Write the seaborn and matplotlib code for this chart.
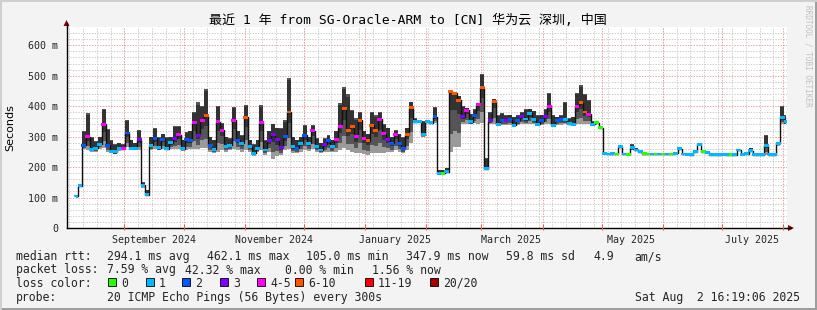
import numpy as np
import pandas as pd
import matplotlib
matplotlib.use("Agg")
import matplotlib.pyplot as plt
import matplotlib.transforms as mtransforms
from matplotlib.patches import Rectangle, Polygon
from matplotlib.lines import Line2D
import seaborn as sns

# ---------------- data ----------------
start_date = "2024-08-07 12:00"
step = "2D"

median_ms = [
    105, 139, 272, 300, 258, 262, 275, 340, 272, 252,
    250, 262, 260, 312, 262, 262, 290, 140, 110, 272,
    294, 264, 291, 261, 280, 294, 307, 261, 291, 286,
    345, 305, 354, 368, 272, 258, 349, 321, 269, 272,
    354, 288, 278, 364, 267, 245, 261, 345, 256, 288,
    307, 290, 265, 299, 381, 267, 262, 278, 305, 278,
    319, 267, 256, 275, 288, 267, 291, 334, 392, 321,
    334, 299, 354, 294, 286, 337, 321, 357, 310, 292,
    278, 307, 278, 261, 307, 395, 349, 351, 307, 349,
    345, 365, 180, 180, 185, 447, 442, 420, 365, 387,
    349, 370, 405, 461, 195, 352, 416, 340, 354, 354,
    356, 338, 354, 365, 358, 376, 356, 340, 352, 365,
    400, 338, 354, 356, 356, 343, 340, 400, 411, 381,
    374, 341, 345, 330, 245, 243, 244, 243, 267, 243,
    242, 263, 256, 250, 244, 243, 243, 243, 243, 243,
    243, 243, 245, 261, 243, 242, 240, 250, 275, 250,
    248, 240, 240, 240, 242, 240, 240, 240, 256, 242,
    244, 254, 240, 240, 240, 272, 240, 240, 278, 363,
    349,
]

smoke_hi_ms = [
    110, 145, 320, 378, 300, 285, 300, 392, 325, 290,
    275, 280, 275, 356, 290, 280, 321, 150, 125, 300,
    327, 300, 310, 300, 300, 334, 334, 290, 315, 320,
    381, 414, 400, 458, 300, 290, 400, 345, 300, 295,
    398, 320, 305, 403, 290, 275, 290, 403, 290, 320,
    343, 330, 330, 354, 494, 300, 290, 300, 338, 300,
    338, 295, 280, 295, 305, 290, 320, 411, 463, 440,
    387, 360, 380, 320, 310, 381, 370, 381, 340, 330,
    300, 321, 310, 300, 330, 414, 360, 356, 350, 353,
    350, 398, 190, 190, 198, 450, 447, 435, 400, 395,
    375, 390, 412, 507, 230, 380, 425, 370, 376, 370,
    372, 365, 370, 380, 390, 392, 385, 370, 372, 390,
    444, 370, 365, 370, 414, 360, 365, 444, 469, 440,
    420, 350, 348, 335, 248, 246, 247, 246, 272, 246,
    245, 275, 262, 253, 247, 246, 246, 246, 246, 246,
    246, 246, 248, 267, 246, 245, 243, 253, 278, 253,
    251, 243, 243, 243, 245, 243, 243, 243, 260, 245,
    247, 262, 243, 243, 243, 305, 243, 243, 281, 400,
    370,
]

smoke_lo_ms = [
    100, 134, 258, 255, 250, 250, 260, 262, 250, 245,
    242, 252, 255, 265, 255, 255, 255, 130, 104, 255,
    258, 255, 258, 255, 258, 260, 258, 252, 255, 258,
    260, 258, 262, 262, 250, 245, 250, 255, 250, 255,
    258, 255, 250, 255, 250, 238, 250, 255, 240, 250,
    225, 235, 240, 255, 260, 245, 245, 250, 255, 252,
    258, 250, 245, 250, 250, 248, 250, 255, 262, 255,
    250, 245, 245, 242, 240, 245, 245, 245, 245, 250,
    248, 255, 250, 245, 255, 280, 345, 346, 300, 346,
    342, 345, 178, 178, 182, 250, 265, 265, 340, 340,
    340, 345, 340, 345, 190, 340, 340, 335, 338, 338,
    338, 335, 338, 340, 340, 342, 340, 335, 338, 340,
    340, 335, 338, 338, 340, 338, 336, 340, 340, 340,
    340, 338, 343, 327, 242, 240, 241, 240, 262, 240,
    239, 255, 252, 247, 241, 240, 240, 240, 240, 240,
    240, 240, 242, 255, 240, 239, 237, 247, 270, 247,
    245, 237, 237, 237, 239, 237, 237, 237, 252, 239,
    241, 250, 237, 237, 237, 240, 237, 237, 270, 340,
    340,
]

# loss level index into loss_labels
loss_level = [
    1, 1, 2, 4, 1, 1, 1, 4, 2, 1,
    1, 1, 4, 2, 1, 1, 3, 1, 1, 1,
    2, 1, 2, 1, 1, 3, 4, 1, 2, 2,
    4, 3, 4, 5, 2, 1, 4, 4, 1, 1,
    4, 2, 1, 5, 1, 1, 1, 4, 1, 3,
    3, 3, 3, 2, 5, 1, 2, 1, 2, 1,
    4, 1, 1, 3, 2, 1, 4, 4, 5, 5,
    5, 4, 5, 4, 5, 5, 5, 4, 4, 3,
    2, 4, 2, 2, 5, 5, 1, 1, 1, 1,
    1, 2, 1, 0, 1, 5, 5, 5, 3, 4,
    1, 2, 4, 5, 1, 3, 5, 1, 2, 3,
    2, 1, 2, 3, 1, 1, 1, 1, 2, 3,
    4, 1, 2, 2, 1, 1, 1, 4, 5, 5,
    4, 1, 0, 0, 1, 1, 1, 0, 1, 1,
    0, 1, 1, 1, 0, 0, 1, 0, 1, 0,
    1, 0, 1, 1, 1, 1, 1, 1, 1, 0,
    1, 1, 1, 1, 1, 1, 0, 1, 1, 1,
    1, 1, 1, 1, 1, 1, 1, 1, 1, 1,
    1,
]

loss_labels = ["0", "1", "2", "3", "4-5", "6-10", "11-19", "20/20"]
loss_colors = ["#26ff00", "#00b8ff", "#0059ff", "#7e00ff",
               "#ff00ff", "#ff5500", "#ff0000", "#a80000"]

y_ticks = [0, 100, 200, 300, 400, 500, 600]
y_tick_labels = ["0", "100 m", "200 m", "300 m", "400 m", "500 m", "600 m"]

month_labels = ["September 2024", "November 2024", "January 2025",
                "March 2025", "May 2025", "July 2025"]
month_label_dates = ["2024-09-16", "2024-11-16", "2025-01-16",
                     "2025-03-16", "2025-05-16", "2025-07-16"]

title_text = "最近 1 年 from SG-Oracle-ARM to [CN] 华为云 深圳, 中国"
stats_rtt = ["median rtt:", "294.1 ms avg", "462.1 ms max", "105.0 ms min",
             "347.9 ms now", "59.8 ms sd", "4.9", "am/s"]
stats_loss = ["packet loss:", "7.59 % avg", "42.32 % max", "0.00 % min", "1.56 % now"]
probe_text = "20 ICMP Echo Pings (56 Bytes) every 300s"
stamp_text = "Sat Aug  2 16:19:06 2025"

x_start = pd.Timestamp("2024-08-02 16:19")
x_end = pd.Timestamp("2025-08-02 16:19")

# ---------------- frame ----------------
dates = pd.date_range(start_date, periods=len(median_ms), freq=step)
df = pd.DataFrame({
    "time": dates,
    "median": median_ms,
    "hi": smoke_hi_ms,
    "lo": smoke_lo_ms,
    "loss": [loss_labels[i] for i in loss_level],
})

sns.set_theme(style="white")
W, H = 817, 310
fig = plt.figure(figsize=(W / 100, H / 100), dpi=100, facecolor="#f3f3f3")

def fx(px):
    return px / W

def fy(py):
    return 1 - py / H

ax_left, ax_right, ax_top, ax_bot = 66.5, 786.5, 27, 228
ax = fig.add_axes([fx(ax_left), fy(ax_bot), (ax_right - ax_left) / W, (ax_bot - ax_top) / H])
ax.set_facecolor("white")
ax.set_xlim(x_start, x_end)
ax.set_ylim(0, 660)

# grid
dot = (0, (1.4, 1.4))
for v in range(20, 660, 20):
    if v % 100:
        ax.axhline(v, color="#cccccc", lw=0.7, ls=dot, zorder=0)
for v in range(100, 660, 100):
    ax.axhline(v, color="#f09a9a", lw=0.7, ls=dot, zorder=0)
for d in pd.date_range("2024-08-04", x_end, freq="W-SUN"):
    ax.axvline(d, color="#cccccc", lw=0.7, ls=dot, zorder=0)
month_starts = pd.date_range("2024-09-01", x_end, freq="MS")
for d in month_starts:
    ax.axvline(d, color="#f09a9a", lw=0.7, ls=dot, zorder=0)

# smoke (layers darker towards the core)
med = df["median"]
ax.fill_between(df["time"], df["lo"], df["hi"], step="mid",
                color="#9a9a9a", lw=0, zorder=1)
ax.fill_between(df["time"], df["lo"] + 0.3 * (med - df["lo"]), df["hi"],
                step="mid", color="#555555", lw=0, zorder=1.5)
ax.fill_between(df["time"], df["lo"] + 0.7 * (med - df["lo"]),
                df["hi"] - 0.08 * (df["hi"] - med),
                step="mid", color="#333333", lw=0, zorder=2)

# median line
sns.lineplot(data=df, x="time", y="median", ax=ax, color="#111111",
             lw=1.0, drawstyle="steps-mid", estimator=None, sort=False,
             zorder=3, legend=False)
rect_marker = [(-1, -0.6), (1, -0.6), (1, 0.6), (-1, 0.6), (-1, -0.6)]
sns.scatterplot(data=df, x="time", y="median", hue="loss",
                hue_order=loss_labels, palette=dict(zip(loss_labels, loss_colors)),
                marker=rect_marker, s=12, linewidth=0, ax=ax, zorder=4,
                legend=False)

# axes styling
for s in ["top", "right"]:
    ax.spines[s].set_visible(False)
for s in ["left", "bottom"]:
    ax.spines[s].set_color("black")
    ax.spines[s].set_linewidth(1.0)

mono = "DejaVu Sans Mono"
ax.set_yticks(y_ticks)
ax.set_yticklabels(y_tick_labels, fontsize=7.2, family=mono)
ax.set_yticks(range(20, 660, 20), minor=True)
ax.tick_params(axis="y", which="major", length=4, direction="inout",
               width=0.7, color="#444444", pad=4)
ax.tick_params(axis="y", which="minor", length=2, direction="inout",
               width=0.7, color="#999999")
ax.set_xticks(pd.to_datetime(month_label_dates))
ax.set_xticklabels(month_labels, fontsize=7.2, family=mono)
ax.tick_params(axis="x", which="major", length=0, pad=5)
ax.set_xticks(pd.date_range("2024-08-04", x_end, freq="W-SUN"), minor=True)
ax.tick_params(axis="x", which="minor", length=2, direction="in",
               width=0.7, color="#999999")
trans = mtransforms.blended_transform_factory(ax.transData, ax.transAxes)
ax.vlines(month_starts, -0.01, 0.02, transform=trans, color="#e06060",
          lw=0.8, clip_on=False, zorder=5)
ax.set_xlabel("")
ax.set_ylabel("")

# axis arrows
fig.add_artist(Line2D([fx(ax_right), fx(791)], [fy(ax_bot), fy(ax_bot)],
                      color="black", lw=1.0))
fig.add_artist(Polygon([[fx(788), fy(ax_bot - 3)], [fx(794), fy(ax_bot)],
                        [fx(788), fy(ax_bot + 3)]], closed=True,
                       color="#8b0000", lw=0))
fig.add_artist(Line2D([fx(ax_left), fx(ax_left)], [fy(ax_top), fy(23)],
                      color="black", lw=1.0))
fig.add_artist(Polygon([[fx(ax_left - 3), fy(26)], [fx(ax_left), fy(20)],
                        [fx(ax_left + 3), fy(26)]], closed=True,
                       color="#8b0000", lw=0))

# texts
fig.text(fx(408), fy(20), title_text, ha="center", va="center",
         fontsize=9.4, family=[mono, "Noto Sans CJK SC"], color="black")
fig.text(fx(10), fy(128), "Seconds", rotation=90, ha="center", va="center",
         fontsize=8, family="DejaVu Sans", color="black")
fig.text(fx(808), fy(5), "RRDTOOL / TOBI OETIKER", rotation=270,
         ha="center", va="top", fontsize=5.5, family=mono, color="#c0c0c0")

fs = 8.3
row_y = [255, 268.5, 282, 296]
rtt_x = [16, 107, 207, 306, 406, 506, 593, 634]
for x, t in zip(rtt_x, stats_rtt):
    fig.text(fx(x), fy(row_y[0]), t, ha="left", va="center_baseline",
             fontsize=fs, family=mono)
loss_x = [16, 107, 185, 285, 372]
for x, t in zip(loss_x, stats_loss):
    fig.text(fx(x), fy(row_y[1]), t, ha="left", va="center_baseline",
             fontsize=fs, family=mono)
fig.text(fx(16), fy(row_y[2]), "loss color:", ha="left", va="center_baseline",
         fontsize=fs, family=mono)
sw_x = [108, 146, 182, 220, 257, 295, 365, 430]
for x, lab, col in zip(sw_x, loss_labels, loss_colors):
    fig.add_artist(Rectangle((fx(x), fy(row_y[2] + 3.7)), 7.5 / W, 7.5 / H,
                             facecolor=col, edgecolor="black", lw=0.6))
    fig.text(fx(x + 13), fy(row_y[2]), lab, ha="left", va="center_baseline",
             fontsize=fs, family=mono)
fig.text(fx(16), fy(row_y[3]), "probe:", ha="left", va="center_baseline",
         fontsize=fs, family=mono)
fig.text(fx(107), fy(row_y[3]), probe_text, ha="left", va="center_baseline",
         fontsize=fs, family=mono)
fig.text(fx(800), fy(row_y[3]), stamp_text, ha="right", va="center_baseline",
         fontsize=fs, family=mono)

# 3D border
fig.add_artist(Rectangle((0, 0), 1, 2 / H, color="#9e9e9e", lw=0))
fig.add_artist(Rectangle((1 - 2 / W, 0), 2 / W, 1, color="#9e9e9e", lw=0))
fig.add_artist(Rectangle((0, 1 - 2 / H), 1, 2 / H, color="#cfcfcf", lw=0))
fig.add_artist(Rectangle((0, 0), 2 / W, 1, color="#cfcfcf", lw=0))

fig.savefig("out.png", dpi=100, facecolor=fig.get_facecolor())
